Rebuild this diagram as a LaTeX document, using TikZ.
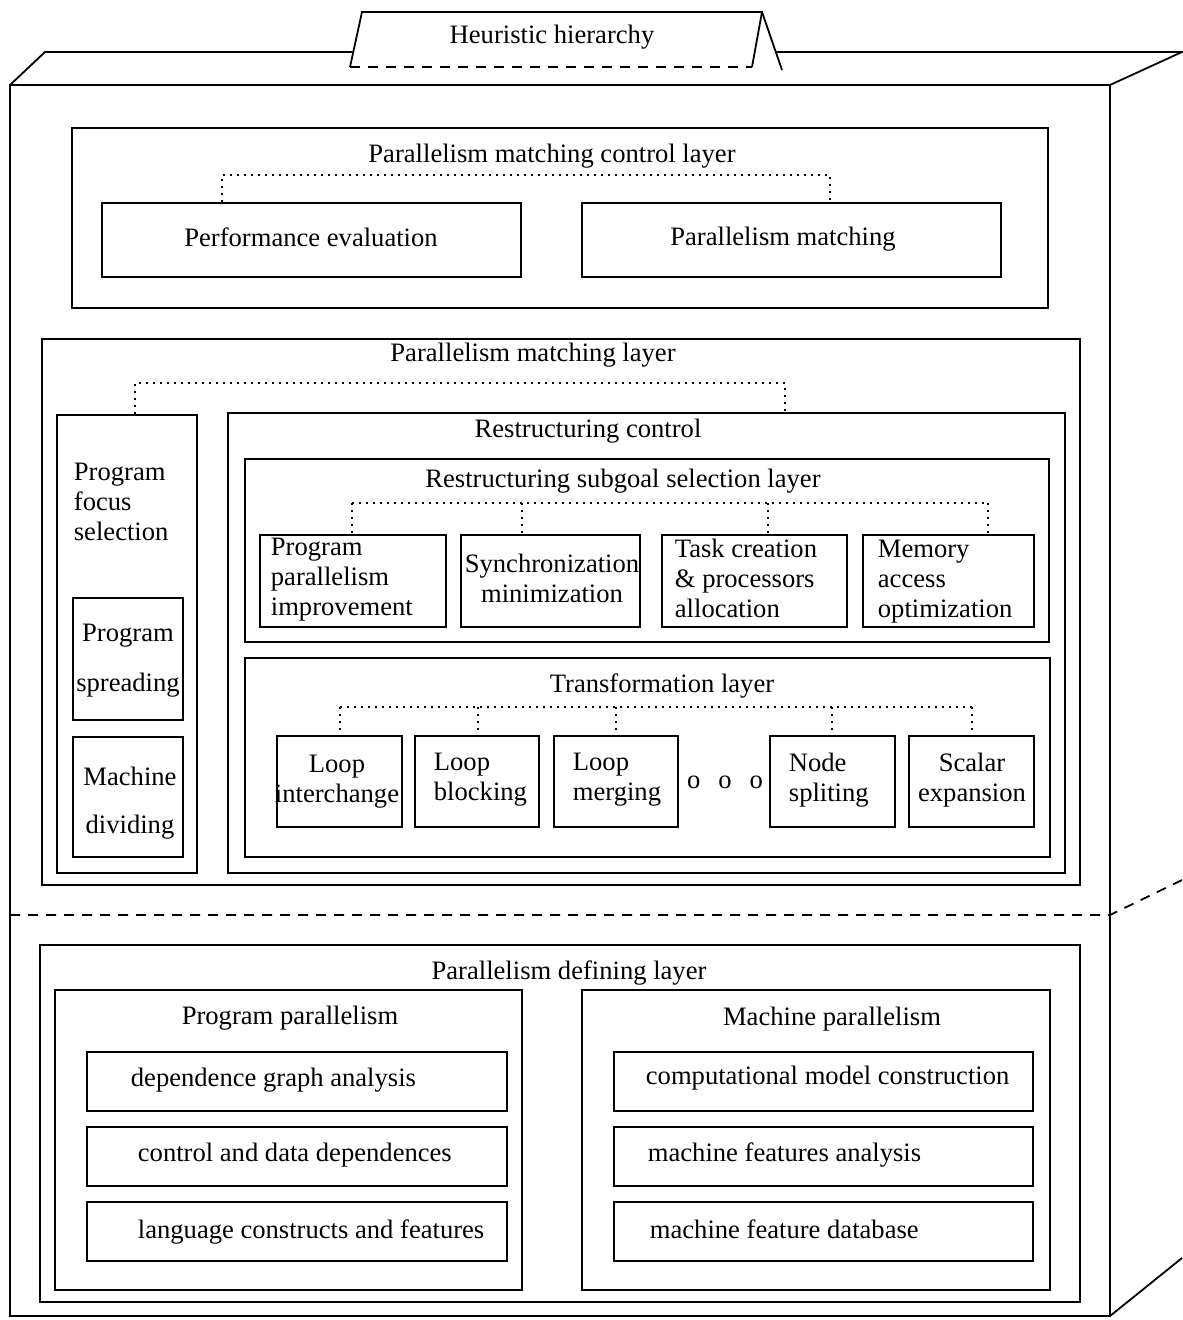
\documentclass[tikz,border=0pt]{standalone}
\usepackage{fontspec}
\setmainfont{Liberation Serif}
\usetikzlibrary{fit}

\begin{document}
\begin{tikzpicture}[x=0.5pt, y=-0.5pt, line width=0.9pt,
  blk/.style={draw, rectangle, inner sep=0pt},
  txt/.style={inner sep=0pt, align=left, font=\fontsize{13.3}{15}\selectfont},
  dotline/.style={line width=1pt, dash pattern=on 0.9pt off 2.6pt},
  sepline/.style={dash pattern=on 5pt off 4pt}]
\useasboundingbox (0,0) rectangle (1182,1320);

% box seen in perspective
\draw (10,85) rectangle (1110,1316);
\draw (10,85) -- (45,52) -- (353,52);
\draw (776,52) -- (1182,52) -- (1110,85);
\draw (1110,1316) -- (1182,1258);
\draw[sepline] (10,915) -- (1110,915) -- (1182,880);

% tab on top
\draw (350,67) -- (362,12) -- (762,12) -- (752,67);
\draw (762,12) -- (782,70);
\draw[sepline] (350,67) -- (752,67);
\node[txt] (hh) at (552,37) {Heuristic hierarchy};

% control layer
\node[blk, fit={(72,128) (1048,308)}] (ctl) {};
\node[txt] (ctl-t) at (552,156) {Parallelism matching control layer};
\node[blk, fit={(102,203) (521,277)}] (perf) {};
\node[txt] (perf-t) at (311,237) {Performance evaluation};
\node[blk, fit={(582,203) (1001,277)}] (pmat) {};
\node[txt] (pmat-t) at (783,239) {Parallelism matching};
\coordinate (cb1) at (222,175);
\coordinate (cb2) at (830,175);
\draw[dotline] (perf.north -| cb1) -- (cb1) -- (cb2) -- (cb2 |- pmat.north);

% matching layer
\node[blk, fit={(42,339) (1080,885)}] (mat) {};
\node[txt] (mat-t) at (533,355) {Parallelism matching layer};
\node[blk, fit={(57,415) (197,873)}] (pfs) {};
\node[txt, anchor=west] (pfs-t) at (73,502) {Program\\focus\\selection};
\node[blk, fit={(73,598) (183,720)}] (spr) {};
\node[txt, align=center] (spr-t) at (128,661) {Program\\[10pt]spreading};
\node[blk, fit={(73,737) (183,857)}] (div) {};
\node[txt, align=center] (div-t) at (130,803) {Machine\\[9pt]dividing};
\node[blk, fit={(228,413) (1065,873)}] (rc) {};
\node[txt] (rc-t) at (588,431) {Restructuring control};
\coordinate (mb1) at (135,383);
\coordinate (mb2) at (785,383);
\draw[dotline] (pfs.north -| mb1) -- (mb1) -- (mb2) -- (mb2 |- rc.north);

% subgoal selection layer
\node[blk, fit={(245,459) (1049,642)}] (sub) {};
\node[txt] (sub-t) at (623,481) {Restructuring subgoal selection layer};
\node[blk, fit={(260,535) (446,627)}] (ppi) {};
\node[txt, anchor=west] (ppi-t) at (270,580) {Program\\parallelism\\improvement};
\node[blk, fit={(461,535) (640,627)}] (syn) {};
\node[txt, align=center] (syn-t) at (552,578) {Synchronization\\minimization};
\node[blk, fit={(662,535) (847,627)}] (task) {};
\node[txt, anchor=west] (task-t) at (674,578) {Task creation\\\&~processors\\allocation};
\node[blk, fit={(863,535) (1034,627)}] (mem) {};
\node[txt, anchor=west] (mem-t) at (877,582) {Memory\\access\\optimization};
\draw[dotline] (352,503) coordinate (sb1) -- (988,503) coordinate (sb2);
\foreach \x/\b [count=\i] in {352/ppi, 522/syn, 768/task, 988/mem} {
  \coordinate (sd\i) at (\x,503);
  \draw[dotline] (sd\i) -- (sd\i |- \b.north);
}

% transformation layer
\node[blk, fit={(245,658) (1050,857)}] (tra) {};
\node[txt] (tra-t) at (662,686) {Transformation layer};
\node[blk, fit={(277,736) (402,827)}] (lint) {};
\node[txt, align=center] (lint-t) at (337,782) {Loop\\interchange};
\node[blk, fit={(415,736) (539,827)}] (lblk) {};
\node[txt, anchor=west] (lblk-t) at (433,780) {Loop\\blocking};
\node[blk, fit={(554,736) (678,827)}] (lmer) {};
\node[txt, anchor=west] (lmer-t) at (572,780) {Loop\\merging};
\node[txt] (dots) at (725,782) {o\hspace{9pt}o\hspace{9pt}o};
\node[blk, fit={(770,736) (895,827)}] (nspl) {};
\node[txt, anchor=west] (nspl-t) at (788,780) {Node\\ spliting};
\node[blk, fit={(909,736) (1034,827)}] (sexp) {};
\node[txt, align=center] (sexp-t) at (972,780) {Scalar\\expansion};
\draw[dotline] (340,707) coordinate (tb1) -- (972,707) coordinate (tb2);
\foreach \x/\b [count=\i] in {340/lint, 478/lblk, 616/lmer, 832/nspl, 972/sexp} {
  \coordinate (td\i) at (\x,707);
  \draw[dotline] (td\i) -- (td\i |- \b.north);
}

% defining layer
\node[blk, fit={(40,945) (1080,1302)}] (def) {};
\node[txt] (def-t) at (569,973) {Parallelism defining layer};
\node[blk, fit={(55,990) (522,1290)}] (ppar) {};
\node[txt] (ppar-t) at (290,1018) {Program parallelism};
\node[blk, fit={(87,1052) (507,1111)}] (dga) {};
\node[txt, anchor=west] (dga-t) at (130,1080) {dependence graph analysis};
\node[blk, fit={(87,1127) (507,1186)}] (cdd) {};
\node[txt, anchor=west] (cdd-t) at (137,1155) {control and data dependences};
\node[blk, fit={(87,1202) (507,1261)}] (lcf) {};
\node[txt, anchor=west] (lcf-t) at (137,1232) {language constructs and features};
\node[blk, fit={(582,990) (1050,1290)}] (mpar) {};
\node[txt] (mpar-t) at (832,1019) {Machine parallelism};
\node[blk, fit={(614,1052) (1033,1111)}] (cmc) {};
\node[txt, anchor=west] (cmc-t) at (645,1078) {computational model construction};
\node[blk, fit={(614,1127) (1033,1186)}] (mfa) {};
\node[txt, anchor=west] (mfa-t) at (647,1155) {machine features analysis};
\node[blk, fit={(614,1202) (1033,1261)}] (mfd) {};
\node[txt, anchor=west] (mfd-t) at (649,1229) {machine feature database};
\end{tikzpicture}
\end{document}
